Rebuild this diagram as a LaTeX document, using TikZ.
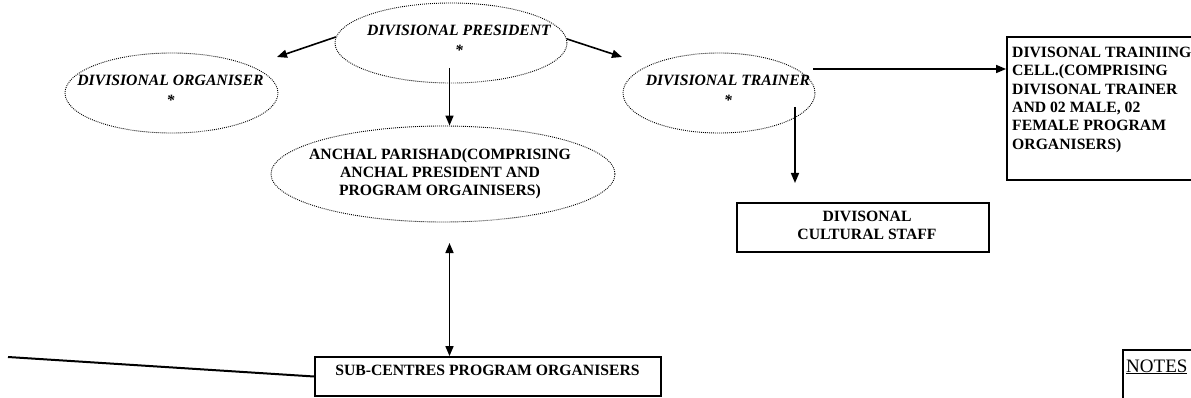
\documentclass[tikz,border=0pt]{standalone}
\usepackage{fontspec}
\setmainfont{Liberation Serif}
\usetikzlibrary{arrows.meta,shapes.geometric}
\begin{document}
\begin{tikzpicture}[x=1pt,y=-1pt,
  ell/.style={ellipse, draw, line width=0.9pt, dash pattern=on 0.9pt off 1.1pt, inner sep=0},
  box/.style={rectangle, draw, line width=1.8pt, inner sep=0},
  conn/.style={line width=1.6pt, -{Triangle[length=10pt,width=8pt]}},
  it/.style={font=\fontsize{15.7}{20}\selectfont\bfseries\itshape, align=center, inner sep=0},
  bf/.style={font=\fontsize{15.7}{18.3}\selectfont\bfseries, inner sep=0},
]
\useasboundingbox (0,0) rectangle (1191,398);
\fill[white] (0,0) rectangle (1191,398);
\clip (0,0) rectangle (1191,398);

% ellipses
\node[ell, minimum width=232pt, minimum height=80pt] (pres) at (451,43) {};
\node[ell, minimum width=213pt, minimum height=80pt] (org) at (171.5,93) {};
\node[ell, minimum width=192pt, minimum height=80pt] (trn) at (719,93) {};
\node[ell, minimum width=344pt, minimum height=96pt] (anc) at (443,174) {};

\node[it, anchor=north] (presT) at (459,25) {DIVISIONAL PRESIDENT\\*};
\node[it, anchor=north] (orgT) at (170.5,75) {DIVISIONAL ORGANISER\\*};
\node[it, anchor=north] (trnT) at (728,75) {DIVISIONAL TRAINER\\*};
\node[bf, align=center, anchor=north] (ancT) at (440,148) {ANCHAL PARISHAD(COMPRISING\\ANCHAL PRESIDENT AND\\PROGRAM ORGAINISERS)};

% boxes
\node[box, minimum width=200pt, minimum height=143pt] (cell) at (1107,108.5) {};
\node[bf, align=left, anchor=north west] (cellT) at (1012,47) {DIVISONAL TRAINIING\\CELL.(COMPRISING\\DIVISONAL TRAINER\\AND 02 MALE, 02\\FEMALE PROGRAM\\ORGANISERS)};

\node[box, minimum width=252pt, minimum height=49pt] (cult) at (863,227.5) {};
\node[bf, align=center, anchor=north] (cultT) at (867,211) {DIVISONAL\\CULTURAL STAFF};

\node[box, minimum width=346pt, minimum height=39pt] (sub) at (488,376.5) {};
\node[bf, anchor=north] (subT) at (487.5,365) {SUB-CENTRES PROGRAM ORGANISERS};

\node[box, minimum width=100pt, minimum height=80pt, anchor=north west] (notes) at (1122,349) {};
\node[font=\fontsize{19}{22}\selectfont, inner sep=0, anchor=base west] (notesT) at (1126,372) {\underline{NOTES}};

% connectors
\coordinate (orgTip) at (277,57);
\coordinate (trnTip) at (622,57);
\coordinate (presB) at (449.5,68);
\coordinate (ancB) at (449.5,243);
\coordinate (trnR) at (813,69);
\coordinate (trnB) at (795,107);
\coordinate (cultTip) at (795,183);
\coordinate (leftEnd) at (8,357);

\draw[conn] (pres.177) -- (orgTip);
\draw[conn] (pres.2.5) -- (trnTip);
\draw[conn] (presB) -- (presB |- anc.north);
\draw[line width=1.6pt, {Triangle[length=10pt,width=8pt]}-{Triangle[length=10pt,width=8pt]}] (ancB) -- (ancB |- sub.north);
\draw[conn] (trnR) -- (trnR -| cell.west);
\draw[conn] (trnB) -- (cultTip);
\draw[line width=2pt] (leftEnd) -- (sub.west);
\end{tikzpicture}
\end{document}
